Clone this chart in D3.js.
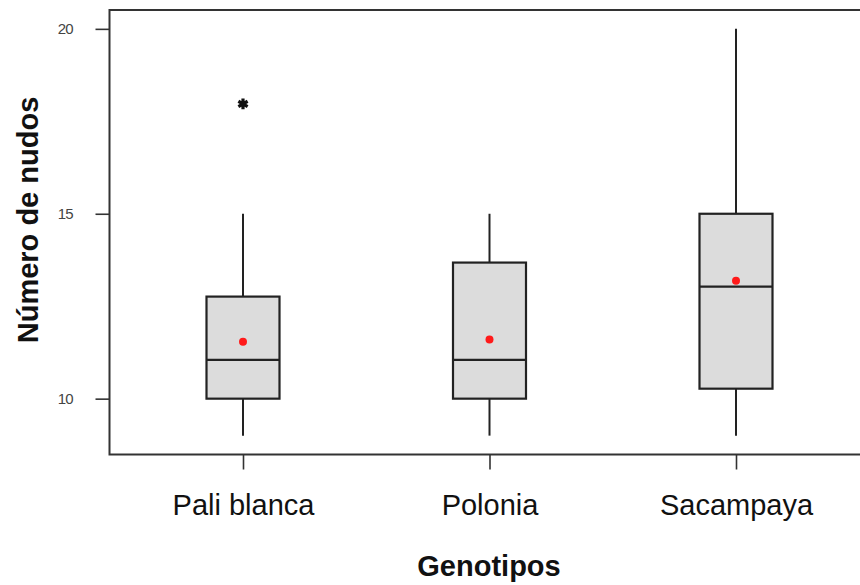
<!DOCTYPE html>
<html>
<head>
<meta charset="utf-8">
<script src="https://cdn.jsdelivr.net/npm/d3@7"></script>
<style>
  html, body { margin: 0; padding: 0; background: #fff; }
  svg { display: block; }
</style>
</head>
<body>
<svg id="chart" width="860" height="585"></svg>
<script>
// Number of nodes per genotype
const genotypes = ["Pali blanca", "Polonia", "Sacampaya"];
const whiskerLow = [9, 9, 9];
const q1 = [10, 10, 10.27];
const median = [11.05, 11.05, 13.03];
const q3 = [12.76, 13.68, 15];
const whiskerHigh = [15, 15, 20];
const means = [11.54, 11.6, 13.19];
const outlierGroup = ["Pali blanca"];
const outlierValue = [17.97];
const yTicks = [10, 15, 20];

const svg = d3.select("#chart");
const plotLeft = 109.5, plotRight = 872, plotTop = 10, plotBottom = 454.5;
const font = "Liberation Sans, Arial, sans-serif";

const x = d3.scalePoint().domain(genotypes).range([243, 736]);
const y = d3.scaleLinear().domain([8.49, 20.51]).range([plotBottom, plotTop]);

const boxW = 73;
const ink = "#222";

// Plot frame
svg.append("rect")
  .attr("x", plotLeft).attr("y", plotTop)
  .attr("width", plotRight - plotLeft).attr("height", plotBottom - plotTop)
  .attr("fill", "none").attr("stroke", "#333").attr("stroke-width", 2);

// Y axis
const yAxis = d3.axisLeft(y).tickValues(yTicks).tickSize(14).tickPadding(23);
const gy = svg.append("g").attr("transform", `translate(${plotLeft},0)`).call(yAxis);
gy.select(".domain").remove();
gy.selectAll(".tick line").attr("stroke", "#333").attr("stroke-width", 1.6);
gy.selectAll(".tick text")
  .attr("font-family", font)
  .attr("font-size", 15).attr("fill", "#444")
  .attr("letter-spacing", -1);

// X axis
const xAxis = d3.axisBottom(x).tickSize(15).tickPadding(25);
const gx = svg.append("g").attr("transform", `translate(0,${plotBottom})`).call(xAxis);
gx.select(".domain").remove();
gx.selectAll(".tick line").attr("stroke", "#333").attr("stroke-width", 1.6);
gx.selectAll(".tick text")
  .attr("font-family", font)
  .attr("font-size", 29).attr("fill", "#111");

// Boxplots
const groups = svg.append("g").selectAll("g").data(genotypes).join("g");

groups.append("line")
  .attr("x1", d => x(d)).attr("x2", d => x(d))
  .attr("y1", (d, i) => y(whiskerLow[i])).attr("y2", (d, i) => y(q1[i]))
  .attr("stroke", ink).attr("stroke-width", 2);
groups.append("line")
  .attr("x1", d => x(d)).attr("x2", d => x(d))
  .attr("y1", (d, i) => y(q3[i])).attr("y2", (d, i) => y(whiskerHigh[i]))
  .attr("stroke", ink).attr("stroke-width", 2);
groups.append("rect")
  .attr("x", d => x(d) - boxW / 2).attr("width", boxW)
  .attr("y", (d, i) => y(q3[i])).attr("height", (d, i) => y(q1[i]) - y(q3[i]))
  .attr("fill", "#dcdcdc").attr("stroke", ink).attr("stroke-width", 2.2);
groups.append("line")
  .attr("x1", d => x(d) - boxW / 2).attr("x2", d => x(d) + boxW / 2)
  .attr("y1", (d, i) => y(median[i])).attr("y2", (d, i) => y(median[i]))
  .attr("stroke", ink).attr("stroke-width", 2.2);
groups.append("path")
  .attr("transform", (d, i) => `translate(${x(d)},${y(means[i])})`)
  .attr("d", d3.symbol(d3.symbolCircle, 50))
  .attr("fill", "#ff1a1a");

// Outliers
svg.append("g").selectAll("path").data(outlierGroup).join("path")
  .attr("transform", (d, i) => `translate(${x(d)},${y(outlierValue[i])})`)
  .attr("d", d3.symbol(d3.symbolAsterisk, 80))
  .attr("stroke", "#111").attr("stroke-width", 3.2);

// Axis titles
svg.append("text")
  .attr("transform", "translate(38,220) rotate(-90)")
  .attr("text-anchor", "middle")
  .attr("font-family", font)
  .attr("font-weight", "bold").attr("font-size", 29).attr("fill", "#111")
  .text("Número de nudos");
svg.append("text")
  .attr("x", 489).attr("y", 576)
  .attr("text-anchor", "middle")
  .attr("font-family", font)
  .attr("font-weight", "bold").attr("font-size", 29).attr("fill", "#111")
  .text("Genotipos");
</script>
</body>
</html>
